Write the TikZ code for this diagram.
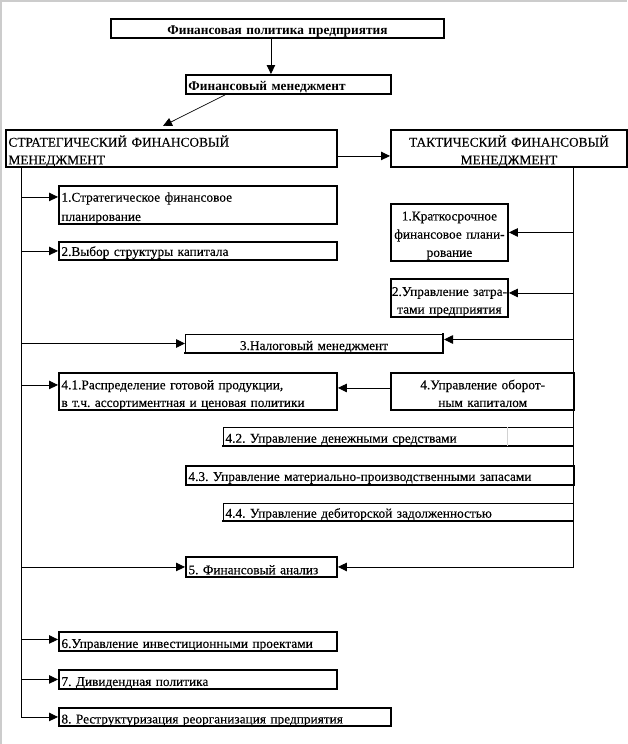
\documentclass[tikz,border=0pt]{standalone}
\usepackage{fontspec}
\setmainfont[UprightFeatures={FakeBold=0.3}]{Liberation Serif}
\usetikzlibrary{arrows.meta,calc}
\frenchspacing
\begin{document}
\begin{tikzpicture}[x=1pt,y=-1pt,
  box/.style={draw, line width=1.9pt, anchor=north west, inner xsep=2.5pt, inner ysep=0pt,
    font=\fontsize{13.33}{17.7}\selectfont},
  thinbox/.style={line width=0.9pt, outer sep=0pt},
  hd/.style 2 args={text height=#1, text depth=#2},
  bld/.style={font=\fontsize{13.33}{17.7}\selectfont\bfseries},
  heavy/.style={line width=1.9pt, line cap=rect},
  arr/.style={line width=0.9pt, -{Triangle[length=9pt,width=8.5pt]}},
  ln/.style={line width=0.9pt},
  thinarr/.style={line width=0.7pt, -{Triangle[length=9pt,width=8.5pt]}}]
\useasboundingbox (0,0) rectangle (627,744);
\draw[gray!40, line width=1.5pt] (0.75,744) -- (0.75,0.75) -- (627,0.75);

\node[box, bld, hd={13pt}{0pt}, align=center, text width=328pt, minimum width=333pt, minimum height=19pt] (top) at (110,18) {Финансовая политика предприятия};
\node[box, bld, hd={13pt}{0pt}, align=left, text width=200pt, minimum width=205pt, minimum height=19pt] (fm) at (185,74) {Финансовый менеджмент};
\node[box, hd={16pt}{19.6pt}, align=left, text width=326pt, minimum width=331pt, minimum height=37pt] (sfm) at (5,129) {СТРАТЕГИЧЕСКИЙ ФИНАНСОВЫЙ\\МЕНЕДЖМЕНТ};
\node[box, hd={16pt}{19.6pt}, align=center, text width=231pt, minimum width=236pt, minimum height=37pt] (tfm) at (390,129) {ТАКТИЧЕСКИЙ ФИНАНСОВЫЙ\\МЕНЕДЖМЕНТ};

\node[box, hd={15pt}{21.6pt}, align=left, text width=273pt, minimum width=278pt, minimum height=38pt, font=\fontsize{13.33}{19.3}\selectfont] (l1) at (58,185) {1.Стратегическое финансовое\\планирование};
\node[box, hd={10pt}{0pt}, align=left, text width=273pt, minimum width=278pt, minimum height=18pt] (l2) at (58,241) {2.Выбор структуры капитала};
\node[box, hd={16pt}{40pt}, inner xsep=0pt, align=center, text width=117pt, minimum width=117pt, minimum height=57pt, font=\fontsize{13.33}{18.2}\selectfont] (r1) at (390,203) {\mbox{1.Краткосрочное}\\\mbox{финансовое плани-}\\\mbox{рование}};
\node[box, hd={16pt}{20pt}, inner xsep=0pt, align=center, text width=117pt, minimum width=117pt, minimum height=38pt] (r2) at (390,278) {\mbox{2.Управление затра-}\\\mbox{тами предприятия}};
\node[box, thinbox, hd={13pt}{0pt}, align=center, text width=253pt, minimum width=258pt, minimum height=19pt] (b3) at (185,334) {3.Налоговый менеджмент};
\draw[heavy] (b3.south west) -- (b3.south east) -- (b3.north east);
\node[box, hd={16pt}{20.4pt}, align=left, text width=273pt, minimum width=278pt, minimum height=37pt] (b41) at (58,372) {4.1.Распределение готовой продукции,\\в т.ч. ассортиментная и ценовая политики};
\node[box, hd={16pt}{20.4pt}, align=center, text width=178.5pt, minimum width=183.5pt, minimum height=37pt] (b4) at (390,372) {4.Управление оборот-\\ным капиталом};
\node[box, thinbox, hd={12.4pt}{0pt}, align=left, text width=345.5pt, minimum width=350.5pt, minimum height=19pt] (b42) at (223,427) {4.2. Управление денежными средствами};
\draw[heavy] (b42.south west) -- (b42.south east);
\node[box, hd={11pt}{0pt}, align=left, text width=383.5pt, minimum width=388.5pt, minimum height=19pt] (b43) at (185,465) {4.3. Управление материально-производственными запасами};
\node[box, thinbox, hd={11.4pt}{0pt}, align=left, text width=345.5pt, minimum width=350.5pt, minimum height=18pt] (b44) at (223,503) {4.4. Управление дебиторской задолженностью};
\draw[heavy] (b44.south west) -- (b44.south east);
\node[box, hd={14.6pt}{0pt}, align=left, text width=146pt, minimum width=151pt, minimum height=20pt] (b5) at (185,556) {5. Финансовый анализ};
\node[box, hd={13pt}{0pt}, align=left, text width=273pt, minimum width=278pt, minimum height=19pt] (b6) at (58,631) {6.Управление инвестиционными проектами};
\node[box, hd={13pt}{0pt}, align=left, text width=273pt, minimum width=278pt, minimum height=19pt] (b7) at (58,669) {7. Дивидендная политика};
\node[box, hd={13pt}{0pt}, align=left, text width=327pt, minimum width=332pt, minimum height=18pt] (b8) at (58,707) {8. Реструктуризация реорганизация предприятия};

\draw[gray!35, line width=0.6pt] ([xshift=284pt]b42.north west) -- ([xshift=284pt]b42.south west);

% top connectors
\coordinate (t1) at ([xshift=-6.5pt]top.south);
\draw[arr] (t1) -- (t1 |- fm.north);
\draw[thinarr] ([xshift=40pt]fm.south west) -- ([xshift=158pt,yshift=3pt]sfm.north west);
\coordinate (s1) at ([yshift=-7.5pt]sfm.east);
\draw[arr] (s1) -- (s1 -| tfm.west);

% left trunk
\coordinate (lt) at ([xshift=16pt]sfm.south west);
\coordinate (a1) at ([yshift=8pt]l1.west);
\coordinate (a2) at (l2.west);
\coordinate (a3) at (b3.west);
\coordinate (a41) at ([yshift=6.5pt]b41.west);
\coordinate (a5) at (b5.west);
\coordinate (a6) at ([yshift=2pt]b6.west);
\coordinate (a7) at (b7.west);
\coordinate (a8) at (b8.west);
\draw[ln] (lt) -- (lt |- a8);
\foreach \c in {a1,a2,a3,a41,a5,a6,a7,a8}
  \draw[arr] (lt |- \c) -- (\c);

% right trunk
\coordinate (rt) at ([xshift=183.5pt]tfm.south west);
\coordinate (c1) at (r1.east);
\coordinate (c2) at ([yshift=5pt]r2.east);
\coordinate (c3) at ([yshift=4pt,xshift=1pt]b3.east);
\coordinate (c5) at (b5.east);
\draw[ln] (rt) -- (rt |- c5);
\foreach \c in {c1,c2,c3,c5}
  \draw[arr] (rt |- \c) -- (\c);

% working capital to 4.1
\coordinate (d4) at ([yshift=3.5pt]b4.west);
\draw[arr] (d4) -- (d4 -| b41.east);
\end{tikzpicture}
\end{document}
